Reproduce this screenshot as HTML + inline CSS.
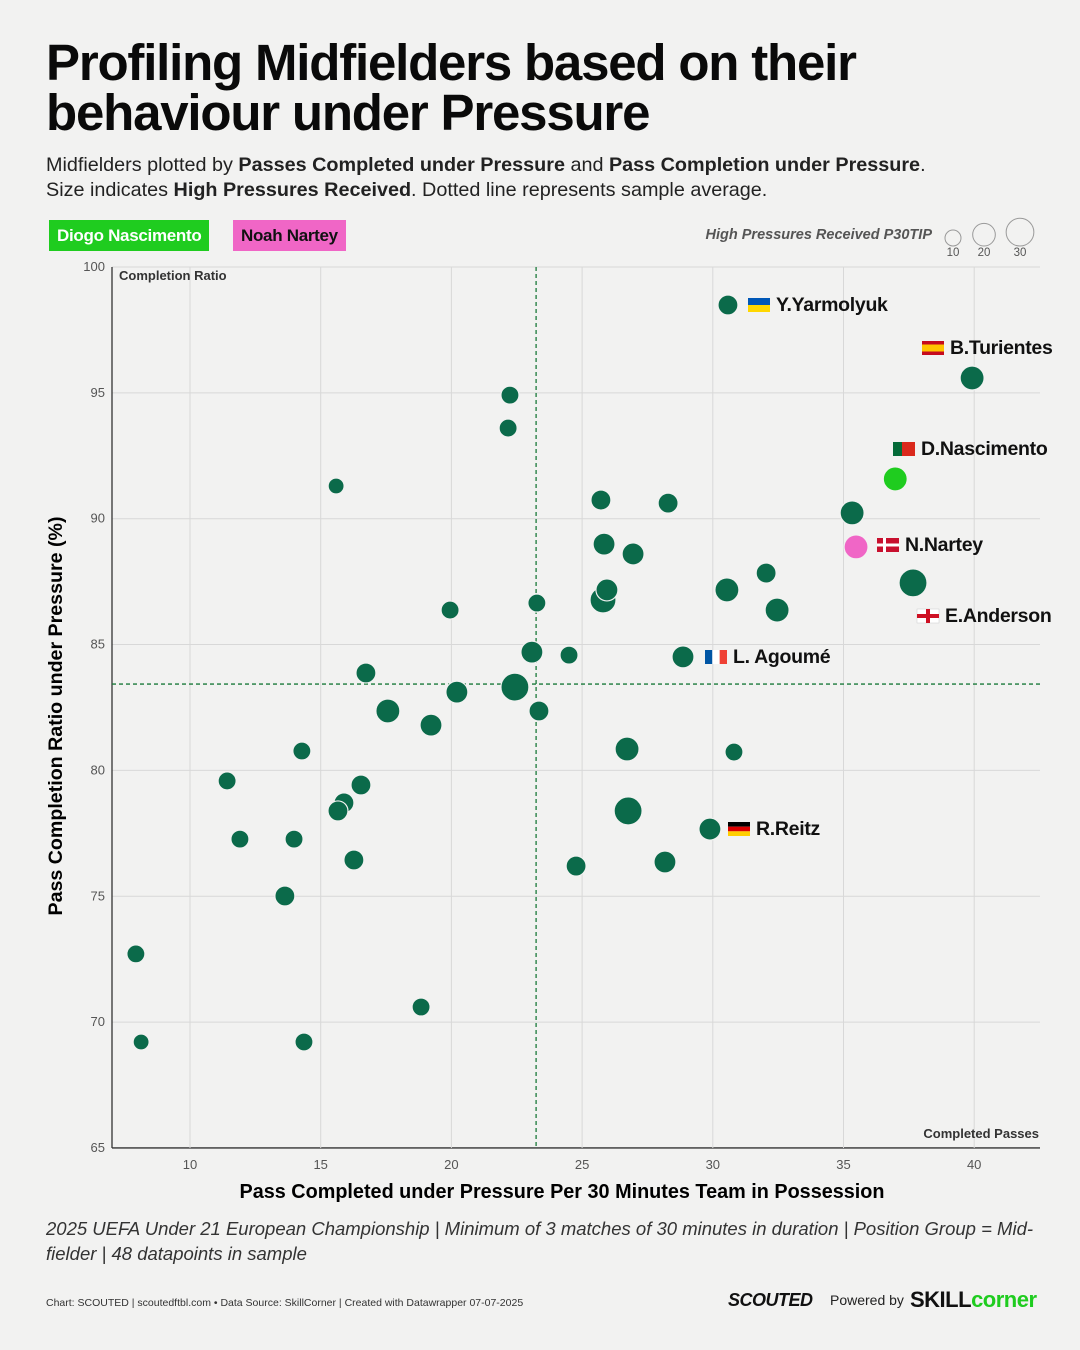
<!DOCTYPE html>
<html><head><meta charset="utf-8">
<style>
body{margin:0;width:1080px;height:1350px;background:#f2f2f1;font-family:"Liberation Sans",sans-serif;position:relative;overflow:hidden;color:#111}
.abs{position:absolute}
h1{position:absolute;left:46px;top:38px;margin:0;font-size:51px;line-height:50px;font-weight:bold;letter-spacing:-1.2px;color:#0a0a0a}
.sub{left:46px;top:153px;font-size:19.8px;line-height:25px;color:#222}
.tag{top:220px;height:31px;line-height:31px;font-size:17px;font-weight:bold;padding:0 8px;letter-spacing:-0.3px}
.note{left:46px;top:1216px;font-size:18.5px;line-height:25px;font-style:italic;color:#333}
</style></head>
<body>
<h1>Profiling Midfielders based on their<br>behaviour under Pressure</h1>
<div class="abs sub">Midfielders plotted by <b>Passes Completed under Pressure</b> and <b>Pass Completion under Pressure</b>.<br>Size indicates <b>High Pressures Received</b>. Dotted line represents sample average.</div>
<div class="abs tag" style="left:49px;background:#1fcc1f;color:#fff">Diogo Nascimento</div>
<div class="abs tag" style="left:233px;background:#f066c6;color:#111">Noah Nartey</div>
<svg class="abs" style="left:0;top:0" width="1080" height="1350" id="chart"></svg>
<div class="abs note">2025 UEFA Under 21 European Championship | Minimum of 3 matches of 30 minutes in duration | Position Group = Mid-<br>fielder | 48 datapoints in sample</div>
<div class="abs" style="left:46px;top:1297px;font-size:10.5px;color:#333">Chart: SCOUTED | scoutedftbl.com • Data Source: SkillCorner | Created with Datawrapper 07-07-2025</div>
<div class="abs" style="left:728px;top:1290px;font-size:18px;font-weight:bold;font-style:italic;letter-spacing:-0.5px">SCOUTED</div>
<div class="abs" style="left:830px;top:1292px;font-size:14px;color:#222">Powered by</div>
<div class="abs" style="left:910px;top:1287px;font-size:22px;font-weight:bold;letter-spacing:-0.5px">SKILL<span style="color:#1fcc1f">corner</span></div>
<script>
const xs=[30.58,39.92,22.24,22.17,15.59,25.72,28.29,35.33,36.98,25.84,26.95,35.48,32.04,30.54,37.66,32.46,25.80,25.95,23.27,19.95,23.08,24.50,28.86,16.73,20.21,22.43,23.35,17.57,19.22,14.28,26.72,30.81,11.42,16.54,15.89,15.66,26.76,29.89,11.91,13.98,16.27,24.77,28.17,13.63,7.93,18.84,8.13,14.36];
const ys=[98.49,95.59,94.91,93.60,91.30,90.74,90.62,90.23,91.58,88.99,88.60,88.88,87.84,87.17,87.45,86.37,86.77,87.17,86.65,86.37,84.70,84.58,84.51,83.87,83.11,83.31,82.36,82.36,81.80,80.77,80.85,80.73,79.58,79.42,78.71,78.39,78.39,77.67,77.27,77.27,76.44,76.20,76.36,75.01,72.71,70.60,69.21,69.21];
const pressures=[15.6,22.5,12.7,12.7,10,15.6,15.6,22.5,22.5,18.9,18.9,22.5,15.6,22.5,30.6,22.5,26.4,18.9,12.7,12.7,18.9,12.7,18.9,15.6,18.9,30.6,15.6,22.5,18.9,12.7,22.5,12.7,12.7,15.6,15.6,15.6,30.6,18.9,12.7,12.7,15.6,15.6,18.9,15.6,12.7,12.7,10,12.7];
const names=["Y.Yarmolyuk","B.Turientes","","","","","","","D.Nascimento","","","N.Nartey","","","E.Anderson","","","","","","","","L. Agoumé","","","","","","","","","","","","","","","R.Reitz"];
const xTicks=[10,15,20,25,30,35,40];
const yTicks=[65,70,75,80,85,90,95,100];
const avgX=23.24, avgY=83.43;
const NS="http://www.w3.org/2000/svg";
const svg=document.getElementById('chart');
const X=v=>190+(v-10)*26.14, Y=v=>267+(100-v)*25.17, R=v=>2.53*Math.sqrt(v);
function el(t,a,txt){const e=document.createElementNS(NS,t);for(const k in a)e.setAttribute(k,a[k]);if(txt!=null)e.textContent=txt;svg.appendChild(e);return e;}
yTicks.forEach(t=>{
 const g=el('line',{x1:112,x2:1040,y1:Y(t),y2:Y(t),stroke:t==65?'#333':'#d8d8d8','stroke-width':t==65?1.3:1});
 
 const l=el('text',{x:105,y:Y(t)+4,'text-anchor':'end','font-size':13,fill:'#555'},t);
 
});
el('line',{x1:112,x2:112,y1:267,y2:1148,stroke:'#333','stroke-width':1.3});
xTicks.forEach(t=>{
 const g=el('line',{x1:X(t),x2:X(t),y1:267,y2:1148,stroke:'#d8d8d8'});
 
 const l=el('text',{x:X(t),y:1169,'text-anchor':'middle','font-size':13,fill:'#555'},t);
 
});
let a=el('line',{x1:X(avgX),x2:X(avgX),y1:267,y2:1148,stroke:'#1a7a3a','stroke-width':1.3,'stroke-dasharray':'4,3'});

a=el('line',{x1:112,x2:1040,y1:Y(avgY),y2:Y(avgY),stroke:'#1a7a3a','stroke-width':1.3,'stroke-dasharray':'4,3'});

let t=el('text',{x:119,y:280,'font-size':13,'font-weight':'bold',fill:'#333'},'Completion Ratio');

t=el('text',{x:1039,y:1138,'font-size':13,'font-weight':'bold',fill:'#333','text-anchor':'end'},'Completed Passes');

t=el('text',{x:562,y:1198,'font-size':20,'font-weight':'bold','text-anchor':'middle',textLength:645,lengthAdjust:'spacingAndGlyphs'},'Pass Completed under Pressure Per 30 Minutes Team in Possession');

t=el('text',{x:0,y:0,'font-size':19.5,'font-weight':'bold','text-anchor':'middle',textLength:399,lengthAdjust:'spacingAndGlyphs',transform:'translate(62,716) rotate(-90)'},'Pass Completion Ratio under Pressure (%)');

t=el('text',{x:932,y:239,'font-size':14.5,'font-weight':'bold','font-style':'italic',fill:'#555','text-anchor':'end'},'High Pressures Received P30TIP');

[[953,10],[984,20],[1020,30]].forEach(([cx,v])=>{
 const r=R(v);
 const c=el('circle',{cx:cx,cy:246-r,r:r,fill:'none',stroke:'#999'});
 
 const l=el('text',{x:cx,y:256,'font-size':11.5,fill:'#555','text-anchor':'middle'},v);
 
});
const flags={"Y.Yarmolyuk":[['#0057b7','#ffd700'],'h'],"B.Turientes":[['#c60b1e','#ffc400','#c60b1e'],'h3'],"D.Nascimento":[['#046a38','#da291c'],'v'],"N.Nartey":[['#c8102e'],'dk'],"E.Anderson":[['#fff'],'en'],"L. Agoumé":[['#0055a4','#fff','#ef4135'],'v3'],"R.Reitz":[['#000','#dd0000','#ffce00'],'h3']};
const labelPos={"Y.Yarmolyuk":[748,305],"B.Turientes":[922,348],"D.Nascimento":[893,449],"N.Nartey":[877,545],"E.Anderson":[917,616],"L. Agoumé":[705,657],"R.Reitz":[728,829]};
xs.forEach((x,i)=>{
 const col=i==8?'#1fcc1f':i==11?'#f066c6':'#0b6a4a';
 const c=el('circle',{cx:X(x),cy:Y(ys[i]),r:R(pressures[i]),fill:col,stroke:'#f2f2f1','stroke-width':1.2});
 
 const n=names[i];
 if(n){
  const [lx,ly]=labelPos[n];const [cols,type]=flags[n];const fx=lx,fy=ly-7,fw=22,fh=14;
  if(type=='h'){el('rect',{x:fx,y:fy,width:fw,height:fh/2,fill:cols[0]});el('rect',{x:fx,y:fy+fh/2,width:fw,height:fh/2,fill:cols[1]});}
  else if(type=='h3'){const hs=n=="B.Turientes"?[3.5,7,3.5]:[fh/3,fh/3,fh/3];let yy=fy;cols.forEach((cc,k)=>{el('rect',{x:fx,y:yy,width:fw,height:hs[k],fill:cc});yy+=hs[k];});}
  else if(type=='v'){el('rect',{x:fx,y:fy,width:9,height:fh,fill:cols[0]});el('rect',{x:fx+9,y:fy,width:13,height:fh,fill:cols[1]});}
  else if(type=='v3'){cols.forEach((cc,k)=>el('rect',{x:fx+k*fw/3,y:fy,width:fw/3,height:fh,fill:cc}));}
  else if(type=='dk'){el('rect',{x:fx,y:fy,width:fw,height:fh,fill:cols[0]});el('rect',{x:fx+6,y:fy,width:3,height:fh,fill:'#fff'});el('rect',{x:fx,y:fy+5.5,width:fw,height:3,fill:'#fff'});}
  else {el('rect',{x:fx,y:fy,width:fw,height:fh,fill:'#fff',stroke:'#ccc','stroke-width':0.5});el('rect',{x:fx+9,y:fy,width:4,height:fh,fill:'#ce1124'});el('rect',{x:fx,y:fy+5,width:fw,height:4,fill:'#ce1124'});}
  const l=el('text',{x:lx+fw+6,y:ly+6,'font-size':19.5,'font-weight':'bold','letter-spacing':'-0.3',fill:'#111'},n);
  
 }
});
</script>
</body></html>
